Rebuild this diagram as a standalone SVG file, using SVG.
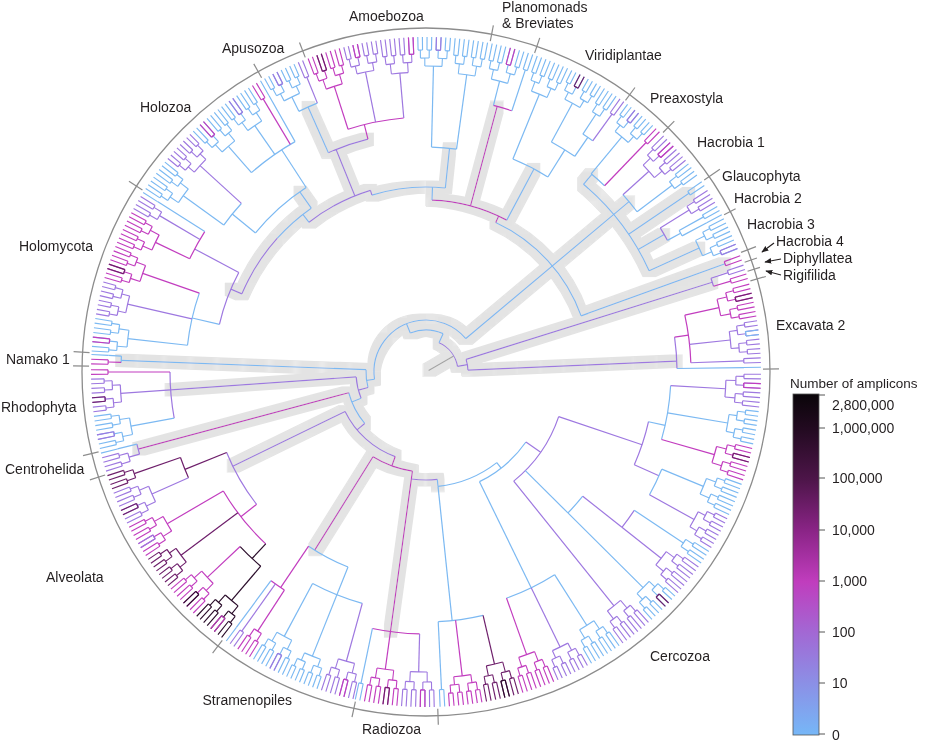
<svg xmlns="http://www.w3.org/2000/svg" width="926" height="744" viewBox="0 0 926 744">
<defs>
<style>
.b{stroke:#7cb9f2}.v{stroke:#9e78e0}.m{stroke:#c23dbf}.d{stroke:#6e1f6b}.k{stroke:#2a0c2a}.g{stroke:#a3a3a3}
.t{font-family:"Liberation Sans",Arial,sans-serif;font-size:14px;fill:#231f20}
</style>
<linearGradient id="cb" x1="0" y1="0" x2="0" y2="1">
<stop offset="0" stop-color="#0a0509"/><stop offset="0.1" stop-color="#220a20"/><stop offset="0.25" stop-color="#4d1549"/><stop offset="0.4" stop-color="#8a2486"/><stop offset="0.55" stop-color="#c03dbd"/><stop offset="0.7" stop-color="#a268d4"/><stop offset="0.85" stop-color="#8b90e6"/><stop offset="1" stop-color="#76b7f7"/>
</linearGradient>
<filter id="halo" x="-10%" y="-10%" width="120%" height="120%">
<feMorphology in="SourceAlpha" operator="dilate" radius="6" result="d"/>
<feFlood flood-color="#e3e3e3"/>
<feComposite in2="d" operator="in" result="h"/>
<feMerge><feMergeNode in="h"/><feMergeNode in="SourceGraphic"/></feMerge>
</filter>
<marker id="ah" viewBox="0 0 10 10" refX="9" refY="5" markerWidth="7" markerHeight="7" orient="auto" markerUnits="userSpaceOnUse"><path d="M0 1L10 5L0 9z" fill="#231f20"/></marker>
<g id="o8a" fill="none">
<circle r="326.5" stroke-width="17" pathLength="360" stroke-dasharray="0 .3 .2 .6 .2 .6 .2 .6 .2 .6 .2 .6 .2 .6 .2 .6 .2 360"/>
<circle r="318" pathLength="360" stroke-dasharray="0 .4 .8 .8 .8 .8 .8 .8 .8 360"/>
<circle r="314" stroke-width="8" pathLength="360" stroke-dasharray="0 .7 .2 1.4 .2 1.4 .2 1.4 .2 360"/>
<circle r="310" pathLength="360" stroke-dasharray="0 .8 1.6 1.6 1.6 360"/>
<circle r="305" stroke-width="10" pathLength="360" stroke-dasharray="0 1.5 .2 3 .2 360"/>
<circle r="300" pathLength="360" stroke-dasharray="0 1.6 3.2 360"/>
</g>
<g id="o8b" fill="none">
<circle r="328.5" stroke-width="13" pathLength="360" stroke-dasharray="0 .3 .2 .6 .2 .6 .2 .6 .2 .6 .2 .6 .2 .6 .2 .6 .2 360"/>
<circle r="322" pathLength="360" stroke-dasharray="0 .4 .8 .8 .8 .8 .8 .8 .8 360"/>
<circle r="318" stroke-width="8" pathLength="360" stroke-dasharray="0 .7 .2 1.4 .2 1.4 .2 1.4 .2 360"/>
<circle r="314" pathLength="360" stroke-dasharray="0 .8 1.6 1.6 1.6 360"/>
<circle r="310" stroke-width="8" pathLength="360" stroke-dasharray="0 1.5 .2 3 .2 360"/>
<circle r="306" pathLength="360" stroke-dasharray="0 1.6 3.2 360"/>
</g>
<g id="q4a" fill="none">
<circle r="326.5" stroke-width="17" pathLength="360" stroke-dasharray="0 .3 .2 .6 .2 .6 .2 .6 .2 360"/>
<circle r="318" pathLength="360" stroke-dasharray="0 .4 .8 .8 .8 360"/>
<circle r="313.5" stroke-width="9" pathLength="360" stroke-dasharray="0 .7 .2 1.4 .2 360"/>
<circle r="309" pathLength="360" stroke-dasharray="0 .8 1.6 360"/>
</g>
<g id="p2" fill="none">
<circle r="326.5" stroke-width="17" pathLength="360" stroke-dasharray="0 .3 .2 .6 .2 360"/>
<circle r="318" pathLength="360" stroke-dasharray="0 .4 .8 360"/>
</g>
<g id="p2b" fill="none">
<circle r="328.5" stroke-width="13" pathLength="360" stroke-dasharray="0 .3 .2 .6 .2 360"/>
<circle r="322" pathLength="360" stroke-dasharray="0 .4 .8 360"/>
</g>
<circle id="s1" fill="none" r="326.5" stroke-width="17" pathLength="360" stroke-dasharray="0 .3 .2 360"/>
</defs>
<rect width="926" height="744" fill="#fff"/>
<g transform="translate(426 372)" fill="none" stroke-width="1.2">
<circle r="344" stroke="#8c8c8c" stroke-width="1.3"/>
<g id="ticks" stroke="#8c8c8c">
<path transform="rotate(359.5)" d="M337 0H353"/><path transform="rotate(88)" d="M337 0H353"/><path transform="rotate(102.1)" d="M337 0H353"/><path transform="rotate(127.2)" d="M337 0H353"/><path transform="rotate(162.2)" d="M337 0H353"/><path transform="rotate(166.3)" d="M337 0H353"/><path transform="rotate(181)" d="M337 0H353"/><path transform="rotate(183.3)" d="M337 0H353"/><path transform="rotate(212.7)" d="M337 0H353"/><path transform="rotate(240.8)" d="M337 0H353"/><path transform="rotate(249)" d="M337 0H353"/><path transform="rotate(281)" d="M337 0H353"/><path transform="rotate(288.8)" d="M337 0H353"/><path transform="rotate(306.3)" d="M337 0H353"/><path transform="rotate(314.7)" d="M337 0H353"/><path transform="rotate(325.4)" d="M338 0H357"/><path transform="rotate(332.2)" d="M337 0H350"/><path transform="rotate(339.2)" d="M337 0H353"/><path transform="rotate(341)" d="M337 0H350"/><path transform="rotate(342.6)" d="M337 0H350"/><path transform="rotate(344.3)" d="M337 0H353"/>
</g>
<g id="backbone" filter="url(#halo)">
<path class="g" transform="rotate(330)" d="M3 0H32"/>
<circle class="v" r="32" pathLength="360" stroke-dasharray="56 360" transform="rotate(294)"/>
<path class="v" transform="rotate(350)" d="M32 0H42"/>
<circle class="v" r="42" pathLength="360" stroke-dasharray="14.9 360" transform="rotate(342.6)"/>
<path class="v" transform="rotate(357.5)" d="M42 0H251"/>
<path class="v" transform="rotate(342.6)" d="M42 0H300"/>
<path class="b" transform="rotate(294)" d="M32 0H42"/>
<circle class="b" r="42" pathLength="360" stroke-dasharray="46 360" transform="rotate(248)"/>
<path class="b" transform="rotate(248)" d="M42 0H52"/>
<circle class="b" r="52" pathLength="360" stroke-dasharray="148 360" transform="rotate(172)"/>
<path class="b" transform="rotate(320)" d="M52 0H265"/>
<circle class="b" r="165" pathLength="360" stroke-dasharray="45.1 360" transform="rotate(295)"/>
<path class="b" transform="rotate(340.1)" d="M165 0H318"/>
<circle class="b" r="245" pathLength="360" stroke-dasharray="25.6 360" transform="rotate(310)"/>
<path class="b" transform="rotate(310)" d="M245 0H258"/>
<path class="b" transform="rotate(325.8)" d="M245 0H318"/>
<path class="b" transform="rotate(330)" d="M245 0H275"/>
<path class="b" transform="rotate(335.6)" d="M245 0H300"/>
<path class="m" transform="rotate(295)" d="M165 0H172"/>
<circle class="m" r="172" pathLength="360" stroke-dasharray="26 360" transform="rotate(272)"/>
<path class="m" transform="rotate(285)" d="M172 0H275"/>
<path class="b" transform="rotate(298)" d="M172 0H230"/>
<path class="b" transform="rotate(272)" d="M172 0H185"/>
<circle class="b" r="185" pathLength="360" stroke-dasharray="23 360" transform="rotate(253)"/>
<path class="b" transform="rotate(276)" d="M185 0H225"/>
<path class="v" transform="rotate(253)" d="M185 0H190"/>
<circle class="v" r="190" pathLength="360" stroke-dasharray="21 360" transform="rotate(232)"/>
<path class="v" transform="rotate(248)" d="M190 0H240"/>
<circle class="v" r="240" pathLength="360" stroke-dasharray="10 360" transform="rotate(246)"/>
<path class="b" transform="rotate(246)" d="M240 0H290"/>
<path class="b" transform="rotate(232)" d="M190 0H200"/>
<circle class="v" r="200" pathLength="360" stroke-dasharray="19 360" transform="rotate(203)"/>
<circle class="b" r="200" pathLength="360" stroke-dasharray="13 360" transform="rotate(222)"/>
<path class="v" transform="rotate(203)" d="M200 0H212"/>
<path class="b" transform="rotate(235)" d="M200 0H220"/>
<path class="b" transform="rotate(172)" d="M52 0H60"/>
<circle class="b" r="60" pathLength="360" stroke-dasharray="17.2 360" transform="rotate(165)"/>
<path class="b" transform="rotate(182.2)" d="M60 0H305"/>
<path class="v" transform="rotate(165)" d="M60 0H70"/>
<circle class="v" r="70" pathLength="360" stroke-dasharray="18 360" transform="rotate(158)"/>
<path class="v" transform="rotate(176)" d="M70 0H256"/>
<path class="b" transform="rotate(158)" d="M70 0H80"/>
<circle class="b" r="80" pathLength="360" stroke-dasharray="25 360" transform="rotate(140)"/>
<path class="m" transform="rotate(165)" d="M80 0H298"/>
<path class="v" transform="rotate(140)" d="M80 0H90"/>
<circle class="v" r="90" pathLength="360" stroke-dasharray="44 360" transform="rotate(110)"/>
<path class="v" transform="rotate(154)" d="M90 0H215"/>
<path class="m" transform="rotate(110)" d="M90 0H100"/>
<circle class="m" r="100" pathLength="360" stroke-dasharray="24.2 360" transform="rotate(97.8)"/>
<path class="m" transform="rotate(122)" d="M100 0H210"/>
<path class="m" transform="rotate(97.8)" d="M100 0H262"/>
<circle class="v" r="108" pathLength="360" stroke-dasharray="13.8 360" transform="rotate(84)"/>
<path class="b" transform="rotate(84)" d="M108 0H115"/>
</g>
<g id="excavata2">
<use href="#o8a" class="m" transform="rotate(344.4)"/><use href="#p2" class="d" transform="rotate(346)"/><use href="#o8b" class="v" transform="rotate(350.8)"/><use href="#p2b" class="b" transform="rotate(352.4)"/><use href="#p2" class="v" transform="rotate(357.2)"/><use href="#s1" class="b" transform="rotate(358.8)"/>
<circle class="v" r="251" pathLength="360" stroke-dasharray="7.2 360" transform="rotate(352)"/>
<path class="b" transform="rotate(359.2)" d="M251 0H318"/><path class="m" transform="rotate(352)" d="M251 0H265"/>
<circle class="m" r="265" pathLength="360" stroke-dasharray="10.4 360" transform="rotate(347.6)"/>
<path class="m" transform="rotate(347.6)" d="M265 0H300"/><path class="v" transform="rotate(354)" d="M265 0H306"/><path class="v" transform="rotate(358)" d="M265 0H318"/>
</g>
<g id="hacrobia4-diphyllatea-rigifilida">
<use href="#p2" class="m" transform="rotate(339.3)"/><use href="#p2" class="v" transform="rotate(341)"/><use href="#p2" class="m" transform="rotate(342.6)"/>
<circle class="v" r="300" pathLength="360" stroke-dasharray="1.6 360" transform="rotate(341.8)"/>
<path class="v" transform="rotate(341.8)" d="M300 0H318"/><path class="m" transform="rotate(343.4)" d="M300 0H318"/>
</g>
<g id="hacrobia3"><use href="#o8a" class="b" transform="rotate(332.4)"/><use href="#p2" class="v" transform="rotate(337.2)"/></g>
<g id="hacrobia2">
<use href="#q4a" class="v" transform="rotate(326.8)"/><use href="#p2" class="b" transform="rotate(330)"/><use href="#s1" class="b" transform="rotate(331.6)"/>
<circle class="v" r="275" pathLength="360" stroke-dasharray="3 360" transform="rotate(328.4)"/>
<path class="v" transform="rotate(328.4)" d="M275 0H309"/><path class="b" transform="rotate(331.4)" d="M275 0H290"/>
<circle class="b" r="290" pathLength="360" stroke-dasharray="1.2 360" transform="rotate(330.8)"/>
<path class="b" transform="rotate(330.8)" d="M290 0H318"/><path class="b" transform="rotate(332)" d="M290 0H318"/>
</g>
<g id="glaucophyta"><use href="#p2" class="b" transform="rotate(325)"/></g>
<g id="hacrobia1">
<use href="#o8a" class="v" transform="rotate(314.8)"/><use href="#p2" class="m" transform="rotate(316.4)"/><use href="#q4a" class="b" transform="rotate(321.2)"/>
<circle class="b" r="265" pathLength="360" stroke-dasharray="4.8 360" transform="rotate(318)"/>
<path class="v" transform="rotate(318)" d="M265 0H300"/><path class="b" transform="rotate(322.8)" d="M265 0H309"/>
</g>
<g id="preaxostyla">
<use href="#o8b" class="b" transform="rotate(306.6)"/><use href="#p2b" class="v" transform="rotate(308.2)"/><use href="#p2" class="m" transform="rotate(313)"/>
<circle class="b" r="258" pathLength="360" stroke-dasharray="4 360" transform="rotate(309.8)"/>
<path class="b" transform="rotate(309.8)" d="M258 0H306"/><path class="m" transform="rotate(313.8)" d="M258 0H318"/>
</g>
<g id="viridiplantae">
<use href="#o8a" class="b" transform="rotate(289)"/><use href="#o8b" class="b" transform="rotate(295.4)"/><use href="#p2b" class="d" transform="rotate(297)"/><use href="#q4a" class="b" transform="rotate(301.8)"/><use href="#p2" class="v" transform="rotate(305)"/>
<circle class="b" r="230" pathLength="360" stroke-dasharray="9.8 360" transform="rotate(292.2)"/>
<path class="b" transform="rotate(292.2)" d="M230 0H300"/><path class="b" transform="rotate(302)" d="M230 0H262"/>
<circle class="b" r="262" pathLength="360" stroke-dasharray="6 360" transform="rotate(298.6)"/>
<path class="b" transform="rotate(298.6)" d="M262 0H306"/><path class="b" transform="rotate(304.6)" d="M262 0H285"/>
<circle class="b" r="285" pathLength="360" stroke-dasharray="2.4 360" transform="rotate(303.4)"/>
<path class="b" transform="rotate(303.4)" d="M285 0H309"/><path class="v" transform="rotate(305.8)" d="M285 0H318"/>
</g>
<g id="planomonads-breviates">
<use href="#o8a" class="b" transform="rotate(281)"/><use href="#p2" class="m" transform="rotate(284.2)"/><use href="#p2" class="b" transform="rotate(287.4)"/>
<circle class="m" r="275" pathLength="360" stroke-dasharray="4 360" transform="rotate(284.2)"/>
<path class="b" transform="rotate(284.2)" d="M275 0H300"/><path class="b" transform="rotate(288.2)" d="M275 0H318"/>
</g>
<g id="amoebozoa">
<use href="#o8a" class="m" transform="rotate(249)"/><use href="#p2" class="d" transform="rotate(250.6)"/><use href="#o8b" class="v" transform="rotate(255.4)"/><use href="#p2b" class="m" transform="rotate(257)"/><use href="#o8a" class="v" transform="rotate(261.8)"/><use href="#p2" class="m" transform="rotate(266.6)"/><use href="#o8b" class="b" transform="rotate(268.2)"/><use href="#p2b" class="v" transform="rotate(271.4)"/><use href="#o8a" class="b" transform="rotate(274.6)"/>
<path class="m" transform="rotate(256)" d="M240 0H255"/>
<circle class="m" r="255" pathLength="360" stroke-dasharray="12.8 360" transform="rotate(252.2)"/>
<path class="m" transform="rotate(252.2)" d="M255 0H300"/><path class="v" transform="rotate(258.6)" d="M255 0H306"/><path class="v" transform="rotate(265)" d="M255 0H300"/>
<circle class="b" r="225" pathLength="360" stroke-dasharray="6.4 360" transform="rotate(271.4)"/>
<path class="b" transform="rotate(271.4)" d="M225 0H306"/><path class="b" transform="rotate(277.8)" d="M225 0H300"/>
</g>
<g id="apusozoa">
<use href="#o8b" class="b" transform="rotate(240.8)"/><use href="#p2b" class="v" transform="rotate(242.4)"/><use href="#p2" class="v" transform="rotate(247.2)"/>
<circle class="b" r="290" pathLength="360" stroke-dasharray="4 360" transform="rotate(244)"/>
<path class="b" transform="rotate(244)" d="M290 0H306"/><path class="v" transform="rotate(248)" d="M290 0H318"/>
</g>
<g id="holozoa">
<use href="#o8a" class="b" transform="rotate(212.8)"/><use href="#o8b" class="v" transform="rotate(219.2)"/><use href="#o8a" class="b" transform="rotate(225.6)"/><use href="#p2" class="m" transform="rotate(227.2)"/><use href="#o8a" class="b" transform="rotate(232)"/><use href="#p2" class="v" transform="rotate(233.6)"/><use href="#p2" class="m" transform="rotate(238.4)"/><use href="#s1" class="b" transform="rotate(240)"/>
<circle class="b" r="220" pathLength="360" stroke-dasharray="17.8 360" transform="rotate(219.2)"/>
<path class="b" transform="rotate(219.2)" d="M220 0H250"/>
<circle class="b" r="250" pathLength="360" stroke-dasharray="6.4 360" transform="rotate(216)"/>
<path class="b" transform="rotate(216)" d="M250 0H300"/><path class="v" transform="rotate(222.4)" d="M250 0H306"/>
<path class="b" transform="rotate(237)" d="M220 0H265"/>
<circle class="b" r="265" pathLength="360" stroke-dasharray="11.6 360" transform="rotate(228.8)"/>
<path class="b" transform="rotate(228.8)" d="M265 0H300"/><path class="b" transform="rotate(235.2)" d="M265 0H300"/><path class="m" transform="rotate(239.2)" d="M265 0H318"/><path class="b" transform="rotate(240.4)" d="M265 0H318"/>
</g>
<g id="holomycota">
<use href="#o8a" class="b" transform="rotate(183.2)"/><use href="#p2" class="m" transform="rotate(184.8)"/><use href="#o8b" class="v" transform="rotate(189.6)"/><use href="#o8a" class="m" transform="rotate(196)"/><use href="#p2" class="d" transform="rotate(197.6)"/><use href="#o8a" class="m" transform="rotate(202.4)"/><use href="#q4a" class="v" transform="rotate(208.8)"/><use href="#s1" class="b" transform="rotate(212)"/>
<circle class="v" r="212" pathLength="360" stroke-dasharray="15 360" transform="rotate(193)"/>
<path class="v" transform="rotate(208)" d="M212 0H262"/>
<circle class="m" r="262" pathLength="360" stroke-dasharray="6.8 360" transform="rotate(205.6)"/>
<path class="m" transform="rotate(205.6)" d="M262 0H300"/><path class="v" transform="rotate(210.4)" d="M262 0H309"/><path class="b" transform="rotate(212.4)" d="M262 0H318"/>
<path class="b" transform="rotate(193)" d="M212 0H240"/>
<circle class="b" r="240" pathLength="360" stroke-dasharray="12.8 360" transform="rotate(186.4)"/>
<path class="b" transform="rotate(186.4)" d="M240 0H300"/><path class="v" transform="rotate(192.8)" d="M240 0H306"/><path class="m" transform="rotate(199.2)" d="M240 0H300"/>
</g>
<g id="namako1">
<use href="#p2" class="m" transform="rotate(181)"/><use href="#s1" class="b" transform="rotate(182.6)"/>
<circle class="b" r="305" pathLength="360" stroke-dasharray="1.2 360" transform="rotate(181.8)"/>
<path class="m" transform="rotate(181.8)" d="M305 0H318"/><path class="b" transform="rotate(183)" d="M305 0H318"/>
</g>
<g id="rhodophyta">
<use href="#o8a" class="b" transform="rotate(166.4)"/><use href="#p2" class="v" transform="rotate(168)"/><use href="#o8b" class="v" transform="rotate(172.8)"/><use href="#p2b" class="d" transform="rotate(174.4)"/><use href="#p2" class="m" transform="rotate(179.2)"/>
<circle class="v" r="256" pathLength="360" stroke-dasharray="10.4 360" transform="rotate(169.6)"/>
<path class="b" transform="rotate(169.6)" d="M256 0H300"/><path class="v" transform="rotate(176)" d="M256 0H306"/><path class="m" transform="rotate(180)" d="M256 0H318"/>
</g>
<g id="centrohelida">
<use href="#q4a" class="v" transform="rotate(162.4)"/><use href="#s1" class="b" transform="rotate(165.6)"/>
<circle class="v" r="298" pathLength="360" stroke-dasharray="2 360" transform="rotate(164)"/>
<path class="v" transform="rotate(164)" d="M298 0H309"/><path class="b" transform="rotate(166)" d="M298 0H318"/>
</g>
<g id="alveolata">
<use href="#o8a" class="k" transform="rotate(127.2)"/><use href="#p2" class="m" transform="rotate(128.8)"/><use href="#o8a" class="m" transform="rotate(133.6)"/><use href="#p2" class="k" transform="rotate(135.2)"/><use href="#o8b" class="d" transform="rotate(140)"/><use href="#o8a" class="m" transform="rotate(146.4)"/><use href="#p2" class="v" transform="rotate(148)"/><use href="#o8a" class="v" transform="rotate(152.8)"/><use href="#p2" class="d" transform="rotate(154.4)"/><use href="#q4a" class="d" transform="rotate(159.2)"/>
<circle class="v" r="215" pathLength="360" stroke-dasharray="16 360" transform="rotate(142)"/>
<path class="d" transform="rotate(158)" d="M215 0H260"/>
<circle class="d" r="260" pathLength="360" stroke-dasharray="4.8 360" transform="rotate(156)"/>
<path class="v" transform="rotate(156)" d="M260 0H300"/><path class="d" transform="rotate(160.8)" d="M260 0H309"/>
<path class="m" transform="rotate(142)" d="M215 0H235"/>
<circle class="m" r="235" pathLength="360" stroke-dasharray="16.6 360" transform="rotate(133)"/>
<path class="m" transform="rotate(149.6)" d="M235 0H300"/><path class="d" transform="rotate(143.2)" d="M235 0H306"/><path class="k" transform="rotate(133)" d="M235 0H255"/>
<circle class="k" r="255" pathLength="360" stroke-dasharray="6.4 360" transform="rotate(130.4)"/>
<path class="k" transform="rotate(130.4)" d="M255 0H300"/><path class="m" transform="rotate(136.8)" d="M255 0H300"/>
</g>
<g id="stramenopiles">
<use href="#o8a" class="v" transform="rotate(102.2)"/><use href="#p2" class="m" transform="rotate(103.8)"/><use href="#o8b" class="b" transform="rotate(108.6)"/><use href="#o8a" class="b" transform="rotate(115)"/><use href="#p2" class="v" transform="rotate(116.6)"/><use href="#q4a" class="m" transform="rotate(121.4)"/><use href="#p2" class="v" transform="rotate(124.6)"/><use href="#s1" class="b" transform="rotate(126.2)"/>
<circle class="b" r="210" pathLength="360" stroke-dasharray="12.2 360" transform="rotate(111.8)"/>
<path class="m" transform="rotate(124)" d="M210 0H260"/>
<circle class="m" r="260" pathLength="360" stroke-dasharray="3.6 360" transform="rotate(123)"/>
<path class="m" transform="rotate(123)" d="M260 0H309"/><path class="v" transform="rotate(125.4)" d="M260 0H318"/><path class="b" transform="rotate(126.6)" d="M260 0H318"/>
<path class="b" transform="rotate(111.8)" d="M210 0H306"/>
<circle class="b" r="240" pathLength="360" stroke-dasharray="12.8 360" transform="rotate(105.4)"/>
<path class="v" transform="rotate(105.4)" d="M240 0H300"/><path class="b" transform="rotate(118.2)" d="M240 0H300"/>
</g>
<g id="radiozoa">
<use href="#o8a" class="v" transform="rotate(88.2)"/><use href="#p2" class="m" transform="rotate(89.8)"/><use href="#o8a" class="m" transform="rotate(94.6)"/><use href="#p2" class="d" transform="rotate(96.2)"/><use href="#p2" class="b" transform="rotate(101)"/>
<circle class="m" r="262" pathLength="360" stroke-dasharray="10.4 360" transform="rotate(91.4)"/>
<path class="v" transform="rotate(91.4)" d="M262 0H300"/><path class="m" transform="rotate(97.8)" d="M262 0H300"/><path class="b" transform="rotate(101.8)" d="M262 0H318"/>
</g>
<g id="cercozoa">
<use href="#o8a" class="v" transform="rotate(0)"/><use href="#p2" class="m" transform="rotate(1.6)"/><use href="#o8b" class="b" transform="rotate(6.4)"/><use href="#o8a" class="m" transform="rotate(12.8)"/><use href="#p2" class="d" transform="rotate(14.4)"/><use href="#o8a" class="b" transform="rotate(19.2)"/><use href="#o8b" class="v" transform="rotate(25.6)"/><use href="#q4a" class="b" transform="rotate(32)"/><use href="#o8a" class="v" transform="rotate(35.2)"/><use href="#o8b" class="b" transform="rotate(41.6)"/><use href="#p2b" class="d" transform="rotate(43.2)"/><use href="#o8a" class="v" transform="rotate(48)"/><use href="#o8a" class="b" transform="rotate(54.4)"/><use href="#o8b" class="v" transform="rotate(60.8)"/><use href="#o8a" class="m" transform="rotate(67.2)"/><use href="#o8a" class="d" transform="rotate(73.6)"/><use href="#p2" class="k" transform="rotate(75.2)"/><use href="#o8b" class="m" transform="rotate(80)"/><use href="#p2" class="b" transform="rotate(86.4)"/>
<circle class="b" r="115" pathLength="360" stroke-dasharray="32 360" transform="rotate(52)"/>
<path class="b" transform="rotate(84)" d="M115 0H250"/>
<circle class="b" r="250" pathLength="360" stroke-dasharray="10.4 360" transform="rotate(76.8)"/>
<path class="d" transform="rotate(76.8)" d="M250 0H300"/><path class="m" transform="rotate(83.2)" d="M250 0H306"/><path class="b" transform="rotate(87.2)" d="M250 0H318"/>
<path class="b" transform="rotate(52)" d="M115 0H122"/>
<circle class="b" r="122" pathLength="360" stroke-dasharray="29 360" transform="rotate(35)"/>
<path class="b" transform="rotate(64)" d="M122 0H240"/>
<circle class="b" r="240" pathLength="360" stroke-dasharray="12.8 360" transform="rotate(57.6)"/>
<path class="b" transform="rotate(57.6)" d="M240 0H300"/><path class="v" transform="rotate(64)" d="M240 0H306"/><path class="m" transform="rotate(70.4)" d="M240 0H300"/>
<path class="v" transform="rotate(35)" d="M122 0H140"/>
<circle class="v" r="140" pathLength="360" stroke-dasharray="32.6 360" transform="rotate(18.6)"/>
<path class="v" transform="rotate(51.2)" d="M140 0H300"/><path class="b" transform="rotate(44.8)" d="M140 0H200"/>
<circle class="b" r="200" pathLength="360" stroke-dasharray="6.4 360" transform="rotate(38.4)"/>
<path class="b" transform="rotate(44.8)" d="M200 0H306"/><path class="v" transform="rotate(38.4)" d="M200 0H250"/>
<circle class="v" r="250" pathLength="360" stroke-dasharray="4.8 360" transform="rotate(33.6)"/>
<path class="v" transform="rotate(38.4)" d="M250 0H300"/><path class="b" transform="rotate(33.6)" d="M250 0H309"/>
<path class="v" transform="rotate(18.6)" d="M140 0H228"/>
<circle class="v" r="228" pathLength="360" stroke-dasharray="11.4 360" transform="rotate(12.6)"/>
<path class="v" transform="rotate(24)" d="M228 0H255"/>
<circle class="b" r="255" pathLength="360" stroke-dasharray="6.4 360" transform="rotate(22.4)"/>
<path class="b" transform="rotate(22.4)" d="M255 0H300"/><path class="v" transform="rotate(28.8)" d="M255 0H306"/>
<path class="b" transform="rotate(12.6)" d="M228 0H245"/>
<circle class="b" r="245" pathLength="360" stroke-dasharray="12.8 360" transform="rotate(3.2)"/>
<path class="m" transform="rotate(16)" d="M245 0H300"/><path class="b" transform="rotate(9.6)" d="M245 0H306"/><path class="v" transform="rotate(3.2)" d="M245 0H300"/>
</g>
</g>
<g id="labels">
<text class="t" x="349" y="21">Amoebozoa</text>
<text class="t" x="502" y="12">Planomonads</text>
<text class="t" x="502" y="28">&amp; Breviates</text>
<text class="t" x="585" y="60">Viridiplantae</text>
<text class="t" x="650" y="103">Preaxostyla</text>
<text class="t" x="697" y="147">Hacrobia 1</text>
<text class="t" x="722" y="181">Glaucophyta</text>
<text class="t" x="734" y="203">Hacrobia 2</text>
<text class="t" x="747" y="229">Hacrobia 3</text>
<text class="t" x="776" y="246">Hacrobia 4</text>
<text class="t" x="783" y="263">Diphyllatea</text>
<text class="t" x="783" y="280">Rigifilida</text>
<text class="t" x="776" y="330">Excavata 2</text>
<text class="t" x="650" y="661">Cercozoa</text>
<text class="t" x="362" y="734">Radiozoa</text>
<text class="t" x="292" y="705" text-anchor="end">Stramenopiles</text>
<text class="t" x="46" y="582">Alveolata</text>
<text class="t" x="5" y="474">Centrohelida</text>
<text class="t" x="1" y="412">Rhodophyta</text>
<text class="t" x="6" y="364">Namako 1</text>
<text class="t" x="19" y="251">Holomycota</text>
<text class="t" x="140" y="112">Holozoa</text>
<text class="t" x="222" y="53">Apusozoa</text>
</g>
<g id="arrows" stroke="#231f20" stroke-width="1.2" fill="none">
<path d="M774 243L762 252" marker-end="url(#ah)"/>
<path d="M781 259L765 262" marker-end="url(#ah)"/>
<path d="M781 275L766 271" marker-end="url(#ah)"/>
</g>
<g id="legend">
<text class="t" x="790" y="388" style="font-size:13.5px">Number of amplicons</text>
<rect x="793" y="394" width="26" height="341" fill="url(#cb)" stroke="#555" stroke-width="0.8"/>
<g stroke="#555" stroke-width="1"><path d="M819 395H825M819 428H825M819 478H825M819 530H825M819 581H825M819 632H825M819 683H825M819 734H825"/></g>
<text class="t" x="832" y="410">2,800,000</text>
<text class="t" x="832" y="433">1,000,000</text>
<text class="t" x="832" y="483">100,000</text>
<text class="t" x="832" y="535">10,000</text>
<text class="t" x="832" y="586">1,000</text>
<text class="t" x="832" y="637">100</text>
<text class="t" x="832" y="688">10</text>
<text class="t" x="832" y="740">0</text>
</g>
</svg>
